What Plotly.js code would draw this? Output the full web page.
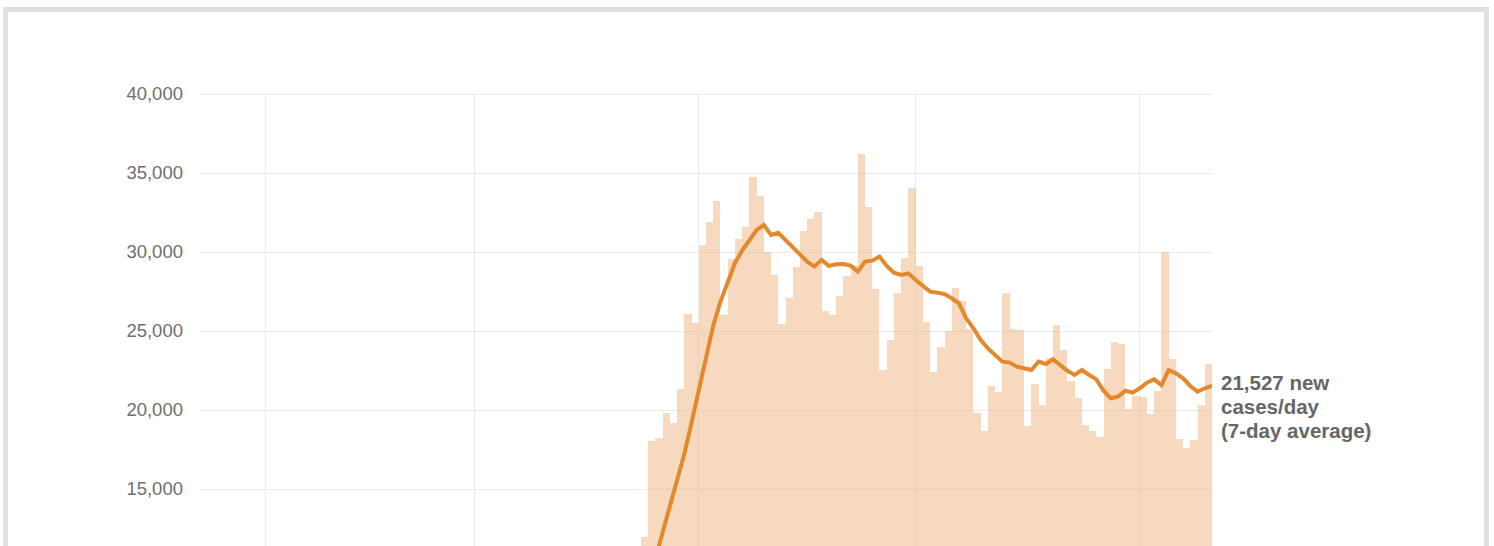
<!DOCTYPE html>
<html>
<head>
<meta charset="utf-8">
<script src="https://cdn.plot.ly/plotly-3.0.1.min.js"></script>
<style>
  html, body { margin: 0; padding: 0; background: #ffffff; overflow: hidden; width: 1494px; height: 546px; }
  #frame { position: absolute; left: 3px; top: 7px; width: 1486px; height: 620px; box-sizing: border-box; border: 5px solid #e0e0e0; }
  #chart { position: absolute; left: 0; top: 0; width: 1494px; height: 546px; }
</style>
</head>
<body>
<div id="frame"></div>
<div id="chart"></div>
<script>
// First date of the series (one value per day)
const startDate = '2020-03-24';

// Daily new cases (bars), Mar 24 -> Jun 10, 2020
const dailyCases = [
  11960, 18040, 18210, 19830, 19160, 21310, 26080, 25490,
  30440, 31870, 33250, 26000, 29560, 30840, 31580, 34730, 33540, 30020,
  28540, 25430, 27070, 29030, 31350, 32090, 32550, 26290, 26010, 27220,
  28480, 29180, 36200, 32830, 27660, 22530, 24430, 27390, 29600, 34070,
  29110, 25570, 22430, 24010, 25020, 27740, 26920, 25100, 19790, 18670,
  21540, 21120, 27430, 25110, 25070, 18990, 21630, 20320, 23270, 25380,
  23800, 21850, 20740, 19050, 18670, 18310, 22600, 24320, 24180, 20040,
  20890,
  20850, 19730, 21230, 30020, 23210, 18170, 17620, 18100, 20300, 22930
];

// 7-day average (line), Mar 24 -> Jun 10, 2020
const sevenDayAvg = [
  8930, 10570, 12220, 13810, 15470, 17220, 19200, 21280,
  23360, 25340, 26860, 28120, 29290, 30090, 30760, 31390, 31710, 31080,
  31220, 30760, 30230, 29810, 29390, 29080, 29500, 29120, 29220, 29240,
  29140, 28760, 29390, 29450, 29710, 29120, 28690, 28550, 28650, 28230,
  27850, 27490, 27430, 27340, 27070, 26750, 25800, 25170, 24430, 23900,
  23480, 23060, 23000, 22740, 22640, 22530, 23060, 22910, 23210, 22850,
  22480, 22215, 22530, 22215, 21940, 21225, 20740, 20850, 21225, 21100,
  21375,
  21730, 21940, 21580, 22530, 22320, 22005, 21520, 21160, 21375, 21527
];

// Axis ticks
const monthTicks = ['2020-02-01', '2020-03-01', '2020-04-01', '2020-05-01', '2020-06-01'];
const yTicks = [15000, 20000, 25000, 30000, 35000, 40000];
const labelLines = ['21,527 new', 'cases/day', '(7-day average)'];

const DAY = 86400000;
const t0 = new Date(startDate + 'T00:00:00Z').getTime();
function iso(ms) { return new Date(ms).toISOString().replace('T', ' ').replace('.000Z', ''); }
const barX = dailyCases.map((_, i) => iso(t0 + i * DAY + DAY / 2));
const lineX = sevenDayAvg.map((_, i) => iso(t0 + (i + 1) * DAY));

const traces = [
  {
    type: 'bar', x: barX, y: dailyCases,
    marker: { color: 'rgba(237,183,130,0.52)', line: { width: 0 } },
    hoverinfo: 'skip'
  },
  {
    type: 'scatter', mode: 'lines', x: lineX, y: sevenDayAvg,
    line: { color: '#e3892b', width: 4, shape: 'linear' },
    hoverinfo: 'skip'
  }
];

const pxPerUnit = 79 / 5000;
const topPad = 2;
const yTop = 40000 + topPad / pxPerUnit;
const yBottom = yTop - 454 / pxPerUnit;

const fontFam = '"Liberation Sans", Arial, Helvetica, sans-serif';
const labelYs = [382, 406, 430];
const annotations = labelLines.map((t, i) => ({
  xref: 'paper', yref: 'paper',
  x: (1219 - 200) / 1012, y: (546 - labelYs[i]) / 454,
  xanchor: 'left', yanchor: 'middle',
  text: t, showarrow: false,
  font: { family: fontFam, size: 20.5, color: '#666666', weight: 700 }
}));

const layout = {
  width: 1494, height: 546,
  margin: { l: 200, r: 282, t: 92, b: 0, pad: 0 },
  paper_bgcolor: 'rgba(0,0,0,0)',
  plot_bgcolor: 'rgba(0,0,0,0)',
  showlegend: false,
  bargap: 0,
  hovermode: false,
  xaxis: {
    type: 'date',
    range: ['2020-01-23', '2020-06-11'],
    tickmode: 'array', tickvals: monthTicks,
    showticklabels: false, ticks: '',
    showgrid: true, gridcolor: '#ebebeb', gridwidth: 1,
    zeroline: false, showline: false, fixedrange: true
  },
  yaxis: {
    range: [yBottom, yTop],
    tickmode: 'array', tickvals: yTicks,
    tickformat: ',d',
    ticks: '', ticklabelstandoff: 16,
    tickfont: { family: fontFam, size: 18.5, color: '#6e6e6e' },
    showgrid: true, gridcolor: '#ebebeb', gridwidth: 1,
    zeroline: false, showline: false, fixedrange: true
  },
  annotations: annotations
};

Plotly.newPlot('chart', traces, layout, { staticPlot: true, displayModeBar: false });
</script>
</body>
</html>
